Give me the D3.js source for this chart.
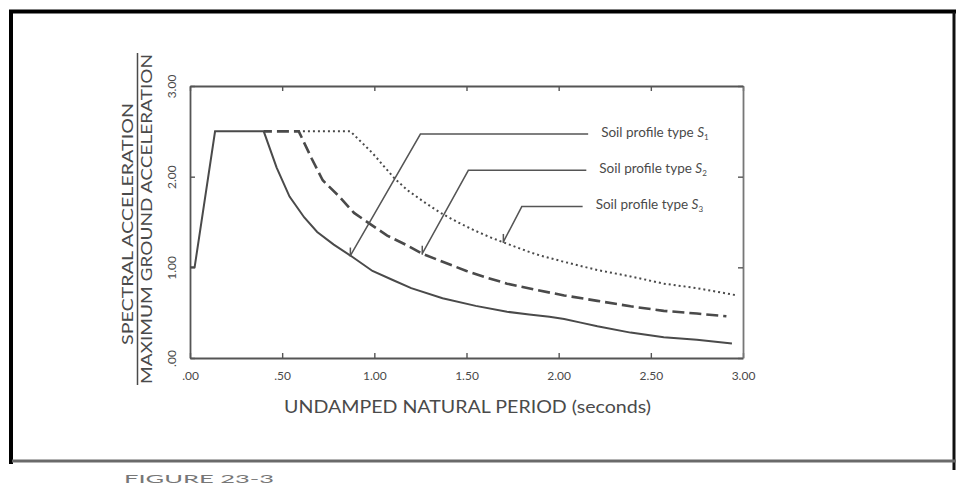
<!DOCTYPE html>
<html><head><meta charset="utf-8">
<script src="https://cdn.jsdelivr.net/npm/d3@7"></script>
<style>body{margin:0;background:#fff}svg{display:block}</style>
</head><body><svg id="c" width="956" height="485"></svg>
<script>
// ---- data ----
const xTicks=[0,0.5,1,1.5,2,2.5,3];
const xTickLabels=[".00",".50","1.00","1.50","2.00","2.50","3.00"];
const yTicks=[0,1,2,3];
const yTickLabels=[".00","1.00","2.00","3.00"];
const legendLabels=["Soil profile type ","Soil profile type ","Soil profile type "];
const legendSubs=["1","2","3"];
// Soil profile type S1 (solid)
const s1=[[0,1.0],[0.025,1.0],[0.136,2.5],[0.40,2.5],[0.47,2.1],[0.54,1.78],[0.62,1.55],[0.69,1.39],[0.78,1.25],[0.87,1.13],[0.99,0.96],[1.10,0.86],[1.20,0.77],[1.37,0.66],[1.55,0.575],[1.72,0.51],[1.84,0.48],[1.95,0.455],[2.03,0.43],[2.12,0.39],[2.21,0.35],[2.39,0.28],[2.57,0.23],[2.75,0.20],[2.94,0.16]];
// Soil profile type S2 (dashed)
const s2=[[0,1.0],[0.025,1.0],[0.136,2.5],[0.59,2.5],[0.66,2.2],[0.72,1.96],[0.81,1.78],[0.89,1.60],[0.99,1.46],[1.07,1.35],[1.18,1.24],[1.26,1.15],[1.36,1.07],[1.50,0.96],[1.62,0.88],[1.72,0.82],[1.88,0.75],[2.03,0.69],[2.21,0.63],[2.39,0.57],[2.57,0.52],[2.75,0.49],[2.91,0.46]];
// Soil profile type S3 (dotted)
const s3=[[0,1.0],[0.025,1.0],[0.136,2.5],[0.87,2.5],[0.93,2.38],[0.99,2.26],[1.05,2.12],[1.11,1.98],[1.18,1.85],[1.27,1.72],[1.36,1.60],[1.45,1.50],[1.54,1.41],[1.63,1.33],[1.72,1.26],[1.84,1.17],[1.90,1.13],[2.03,1.06],[2.21,0.97],[2.39,0.90],[2.57,0.82],[2.75,0.77],[2.97,0.69]];
// leader lines (curve point -> elbow -> label end)
const leader1=[[0.87,1.13],[1.25,2.47],[2.16,2.47]];
const leader2=[[1.26,1.15],[1.51,2.07],[2.15,2.07]];
const leader3=[[1.70,1.28],[1.80,1.67],[2.13,1.67]];
const xTitle="UNDAMPED NATURAL PERIOD (seconds)";
const yTitleTop="SPECTRAL ACCELERATION";
const yTitleBottom="MAXIMUM GROUND ACCELERATION";
const caption="FIGURE 23-3";

// ---- drawing ----
const ink="#4a4a4a";
const font="Lato, 'Open Sans', sans-serif";
const svg=d3.select("#c");
const x=d3.scaleLinear().domain([0,3]).range([190,743]);
const y=d3.scaleLinear().domain([0,3]).range([358,86]);

// page borders from the scan
svg.append("line").attr("x1",9).attr("x2",956).attr("y1",11.5).attr("y2",11.5).attr("stroke","#000").attr("stroke-width",4);
svg.append("line").attr("x1",11).attr("x2",11).attr("y1",10).attr("y2",464).attr("stroke","#000").attr("stroke-width",4);
svg.append("line").attr("x1",954).attr("x2",954).attr("y1",12).attr("y2",470).attr("stroke","#111").attr("stroke-width",3);
svg.append("line").attr("x1",12).attr("x2",956).attr("y1",461).attr("y2",461).attr("stroke","#6a6a6a").attr("stroke-width",3);
svg.append("text").attr("x",124).attr("y",483).attr("font-family",font).attr("font-size",12).attr("fill","#777")
  .attr("textLength",150).attr("lengthAdjust","spacingAndGlyphs").text(caption);

function styleAxis(g){
  g.selectAll(".domain").attr("stroke","#555").attr("stroke-width",1.8);
  g.selectAll(".tick line").attr("stroke","#555").attr("stroke-width",1.4);
  g.selectAll("text").attr("fill",ink).attr("font-family",font).attr("font-size",12);
}
const gx=svg.append("g").attr("transform",`translate(0,${y(0)})`)
  .call(d3.axisBottom(x).tickValues(xTicks).tickSizeInner(-5).tickSizeOuter(0).tickPadding(13).tickFormat((d,i)=>xTickLabels[i]));
styleAxis(gx);
const gt=svg.append("g").attr("transform",`translate(0,${y(3)})`)
  .call(d3.axisTop(x).tickValues(xTicks).tickSizeInner(-5).tickSizeOuter(0).tickFormat(""));
styleAxis(gt);
const gr=svg.append("g").attr("transform",`translate(${x(3)},0)`)
  .call(d3.axisRight(y).tickValues(yTicks).tickSizeInner(-5).tickSizeOuter(0).tickFormat(""));
styleAxis(gr);
gr.select(".domain").attr("stroke","#777");
const gy=svg.append("g").attr("transform",`translate(${x(0)},0)`)
  .call(d3.axisLeft(y).tickValues(yTicks).tickSizeInner(-5).tickSizeOuter(0).tickFormat((d,i)=>yTickLabels[i]));
styleAxis(gy);
gy.selectAll("text").attr("x",0).attr("y",0).attr("dy","0.35em").attr("text-anchor","middle")
  .attr("transform","translate(-18,0) rotate(-90)");

// curves (later series only shown where they separate from the previous one)
const line=d3.line().x(d=>x(d[0])).y(d=>y(d[1]));
const plateauEnd=s=>d3.max(s.filter(d=>d[1]>=2.5),d=>d[0]);
const defs=svg.append("defs");
function clipFrom(id,t){
  defs.append("clipPath").attr("id",id).append("rect")
    .attr("x",x(t)).attr("y",0).attr("width",956-x(t)).attr("height",485);
  return `url(#${id})`;
}
svg.append("path").datum(s3).attr("d",line).attr("clip-path",clipFrom("c3",plateauEnd(s2)))
  .attr("fill","none").attr("stroke",ink).attr("stroke-width",2).attr("stroke-dasharray","2,3");
svg.append("path").datum(s2).attr("d",line).attr("clip-path",clipFrom("c2",plateauEnd(s1)))
  .attr("fill","none").attr("stroke",ink).attr("stroke-width",2.6).attr("stroke-dasharray","12,5");
svg.append("path").datum(s1).attr("d",line)
  .attr("fill","none").attr("stroke",ink).attr("stroke-width",2);

// leaders + labels
[leader1,leader2,leader3].forEach((L,i)=>{
  svg.append("path").datum(L).attr("d",line).attr("fill","none").attr("stroke","#555").attr("stroke-width",1.5);
  const p=L[0];
  svg.append("line").attr("x1",x(p[0])).attr("x2",x(p[0])).attr("y1",y(p[1])-8).attr("y2",y(p[1])+1)
    .attr("stroke","#555").attr("stroke-width",1.5);
  const e=L[L.length-1];
  const t=svg.append("text").attr("x",x(e[0])+13).attr("y",y(e[1])+2.5)
    .attr("font-family",font).attr("font-size",13.5).attr("fill",ink);
  t.append("tspan").text(legendLabels[i]);
  t.append("tspan").attr("font-style","italic").text("S");
  t.append("tspan").attr("font-size",8).attr("dy",3).text(legendSubs[i]);
});

// axis titles
svg.append("text").attr("x",(x(0)+x(3))/2+1).attr("y",413).attr("text-anchor","middle")
  .attr("font-family",font).attr("font-size",17).attr("fill",ink)
  .attr("textLength",367).attr("lengthAdjust","spacingAndGlyphs").text(xTitle);
svg.append("text").attr("transform","translate(128,224) rotate(-90)").attr("text-anchor","middle").attr("dy","0.35em")
  .attr("font-family",font).attr("font-size",14.5).attr("fill",ink)
  .attr("textLength",242).attr("lengthAdjust","spacingAndGlyphs").text(yTitleTop);
svg.append("line").attr("x1",137.5).attr("x2",137.5).attr("y1",53).attr("y2",385).attr("stroke",ink).attr("stroke-width",1.5);
svg.append("text").attr("transform","translate(146.5,219) rotate(-90)").attr("text-anchor","middle").attr("dy","0.35em")
  .attr("font-family",font).attr("font-size",14.5).attr("fill",ink)
  .attr("textLength",330).attr("lengthAdjust","spacingAndGlyphs").text(yTitleBottom);
</script></body></html>
